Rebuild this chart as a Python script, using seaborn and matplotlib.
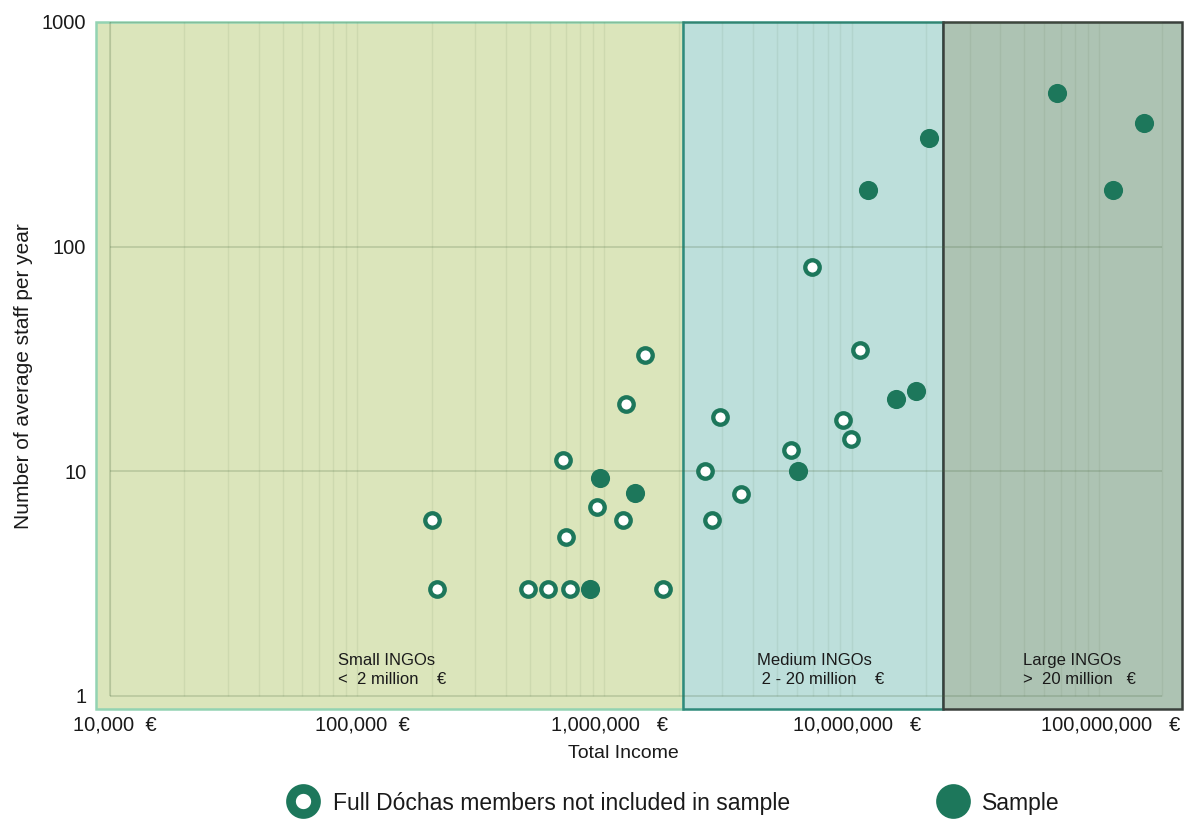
import numpy as np
import pandas as pd
import seaborn as sns
import matplotlib.pyplot as plt
from matplotlib.lines import Line2D

# --- data -------------------------------------------------------------
# Full Dóchas members not included in the sample
other_income = [200e3, 211e3, 493e3, 594e3, 729e3, 1.73e6, 683e3, 702e3,
                937e3, 1.19e6, 1.22e6, 1.46e6, 10.8e6, 2.94e6, 9.24e6,
                9.95e6, 5.7e6, 2.56e6, 3.58e6, 2.73e6, 6.92e6]
other_staff = [6.1, 3, 3, 3, 3, 3, 11.2, 5.1, 6.9, 6.1, 20, 33, 34.5,
               17.4, 16.9, 13.9, 12.5, 10, 7.9, 6.1, 81]

# Organisations in the sample
sample_income = [878e3, 964e3, 1.33e6, 15.1e6, 18.2e6, 6.08e6, 11.6e6,
                 20.6e6, 67.6e6, 114e6, 153e6]
sample_staff = [3, 9.3, 8, 21, 22.7, 10, 179, 305, 483, 179, 356]

# Income bands
band_edges = [8.78e3, 2.08e6, 2.34e7, 2.17e8]
band_titles = ["Small INGOs", "Medium INGOs", "Large INGOs"]
band_ranges = ["<  2 million    €", " 2 - 20 million    €", ">  20 million   €"]

x_ticks = [1e4, 1e5, 1e6, 1e7, 1e8]
x_tick_labels = ["10,000  €", "100,000  €", "1,000,000   €",
                 "10,000,000   €", "100,000,000   €"]
y_ticks = [1, 10, 100, 1000]
y_tick_labels = ["1", "10", "100", "1000"]

legend_labels = ["Full Dóchas members not included in sample", "Sample"]

# --- style ------------------------------------------------------------
sns.set_theme(style="white")
plt.rcParams["font.family"] = ["Liberation Sans", "DejaVu Sans"]

GREEN = "#1d775b"
band_fill = ["#dbe5bb", "#bddfdb", "#adc3b3"]
band_line = ["#93d3b2", "#2f8a7b", "#3a403c"]
TEXT = "#1a1a1a"

fig = plt.figure(figsize=(11.84, 8.22), dpi=100)
ax = fig.add_axes([0.0811, 0.1375, 0.9172, 0.8358])
ax.set_xscale("log")
ax.set_yscale("log")
ax.set_xlim(band_edges[0], band_edges[-1])
ax.set_ylim(0.875, 1000)

# coloured income bands
for i in range(3):
    ax.axvspan(band_edges[i], band_edges[i + 1], ymin=0, ymax=1,
               facecolor=band_fill[i], edgecolor=band_line[i],
               linewidth=1.8, zorder=0, clip_on=False)

# log grid, drawn over the bands
grid_right = 1.8e8
grid_x = [k * 10 ** d for d in range(4, 9) for k in range(1, 10)
          if k * 10 ** d <= grid_right] + [grid_right]
ax.vlines(grid_x, 1, 1000, colors="#4a6a40", alpha=0.09, lw=1, zorder=1)
ax.vlines([1e4], 1, 1000, colors="#4a6a40", alpha=0.2, lw=1.3, zorder=1)
ax.hlines(y_ticks, 1e4, grid_right, colors="#4a6a40", alpha=0.22,
          lw=1.3, zorder=1)

# points
sns.scatterplot(x=other_income, y=other_staff, ax=ax, s=108,
                color=GREEN, facecolor="white", edgecolor=GREEN,
                linewidth=3.1, zorder=3, legend=False)
sns.scatterplot(x=sample_income, y=sample_staff, ax=ax, s=190,
                color=GREEN, edgecolor=GREEN, linewidth=0,
                zorder=3, legend=False)

# band captions
label_x = [83.6e3, 4.14e6, 4.93e7]
for i in range(3):
    ax.text(label_x[i], 1.445, band_titles[i], fontsize=12, color=TEXT,
            ha="left", va="center", zorder=4)
    ax.text(label_x[i], 1.178, band_ranges[i], fontsize=12, color=TEXT,
            ha="left", va="center", zorder=4)

# axes furniture
for s in ax.spines.values():
    s.set_visible(False)
ax.minorticks_off()
ax.set_yticks(y_ticks)
ax.set_yticklabels(y_tick_labels)
ax.tick_params(axis="y", length=0, pad=7, labelsize=14.5, labelcolor=TEXT)
ax.set_xticks(x_ticks)
ax.set_xticklabels([])
ax.tick_params(axis="x", length=0)

# euro tick labels sit a little to the right of their decade
label_shift = [47, 53, 64, 70, 81]
for xv, lab, dx in zip(x_ticks, x_tick_labels, label_shift):
    ax.annotate(lab, xy=(xv, 0), xycoords=("data", "axes fraction"),
                xytext=(dx * 0.72, -16 * 0.72), textcoords="offset points",
                ha="right", va="center", fontsize=14.5, color=TEXT)

ax.set_xlabel("Total Income", fontsize=14, color=TEXT)
ax.xaxis.set_label_coords(0.486, -0.052)
ax.set_ylabel("Number of average staff per year", fontsize=15, color=TEXT)
ax.yaxis.set_label_coords(-0.058, 0.485)

# legend
handles = [
    Line2D([], [], marker="o", ls="", markersize=18, markerfacecolor="white",
           markeredgecolor=GREEN, markeredgewidth=7),
    Line2D([], [], marker="o", ls="", markersize=25, markerfacecolor=GREEN,
           markeredgecolor=GREEN, markeredgewidth=0),
]
fig.legend(handles, legend_labels, loc="center left",
           bbox_to_anchor=(0.2413, 0.0231), ncol=2, frameon=False,
           fontsize=16.5, handlelength=1.5, handletextpad=0.55,
           columnspacing=6.35, borderpad=0, borderaxespad=0,
           labelcolor=TEXT)

fig.savefig("out.png", dpi=100)
